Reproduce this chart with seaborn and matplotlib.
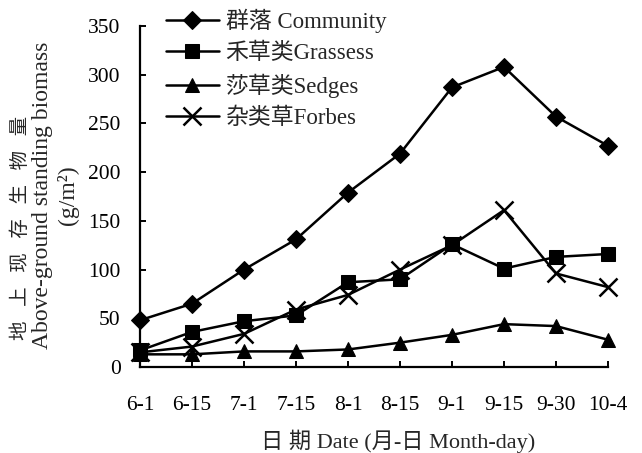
import matplotlib
matplotlib.use("Agg")
import matplotlib.pyplot as plt
import seaborn as sns
import pandas as pd

# Sampling dates (month-day)
dates = ["6-1", "6-15", "7-1", "7-15", "8-1", "8-15", "9-1", "9-15", "9-30", "10-4"]

# Above-ground standing biomass (g/m2)
community = [48, 65, 100, 131, 179, 219, 287, 308, 257, 227]
grasses = [17, 36, 47, 53, 87, 90, 126, 101, 113, 116]
sedges = [13, 13, 16, 16, 18, 25, 33, 44, 42, 28]
forbs = [15, 21, 34, 59, 74, 100, 125, 161, 96, 82]

series_names = ["群落 Community", "禾草类Grassess", "莎草类Sedges", "杂类草Forbes"]
series_values = [community, grasses, sedges, forbs]

y_ticks = [0, 50, 100, 150, 200, 250, 300, 350]

sns.set_style("ticks")
plt.rcParams["font.family"] = ["Liberation Serif", "Noto Sans CJK SC"]
plt.rcParams["axes.unicode_minus"] = False

frames = []
for name, vals in zip(series_names, series_values):
    frames.append(pd.DataFrame({"date": dates, "pos": range(len(dates)),
                                "biomass": vals, "series": name}))
df = pd.concat(frames, ignore_index=True)

fig = plt.figure(figsize=(6.42, 4.53), dpi=100)
ax = fig.add_axes([140 / 642, (453 - 367) / 453, (608 - 140) / 642, (367 - 26) / 453])

styles = {
    "群落 Community": dict(marker="D", markersize=9),
    "禾草类Grassess": dict(marker="s", markersize=10),
    "莎草类Sedges": dict(marker="^", markersize=10),
    "杂类草Forbes": dict(marker="x", markersize=13, markeredgewidth=1.8),
}

for name in series_names:
    sub = df[df["series"] == name]
    sns.lineplot(data=sub, x="pos", y="biomass", ax=ax, color="black",
                 linewidth=1.8, label=name, clip_on=False,
                 markeredgecolor="black", markerfacecolor="black",
                 **styles[name])

ax.set_xlim(0, len(dates) - 1)
ax.set_ylim(0, 350)
ax.set_xticks(range(len(dates)))
ax.set_xticklabels(dates)
ax.set_yticks(y_ticks)

for side in ["top", "right"]:
    ax.spines[side].set_visible(False)
for side in ["left", "bottom"]:
    ax.spines[side].set_linewidth(1.6)
    ax.spines[side].set_color("black")

ax.tick_params(axis="both", direction="in", length=4, width=1.4,
               labelsize=15.5, colors="black")
ax.tick_params(axis="y", pad=14)
ax.tick_params(axis="x", pad=21)

ax.set_xlabel("")
ax.set_ylabel("")

# Horizontal axis title
fig.text(398 / 642, 1 - 441 / 453, "日 期 Date (月-日 Month-day)",
         ha="center", va="center", fontsize=16)

# Three-line vertical axis title
fig.text(21 / 642, 1 - 228 / 453, "地   上   现   存   生   物   量",
         rotation=90, ha="center", va="center", fontsize=14)
fig.text(43 / 642, 1 - 195 / 453, "Above-ground standing biomass",
         rotation=90, ha="center", va="center", fontsize=17)
fig.text(68 / 642, 1 - 195 / 453, "(g/m²)",
         rotation=90, ha="center", va="center", fontsize=17)

leg = ax.legend(loc="upper left", bbox_to_anchor=(166 / 642, 1 - 9 / 453),
                bbox_transform=fig.transFigure, frameon=False, fontsize=16.5,
                handlelength=2.3, handletextpad=0.3, labelspacing=0.42,
                borderpad=0, borderaxespad=0)

fig.savefig("out.png", dpi=100, facecolor="white")
